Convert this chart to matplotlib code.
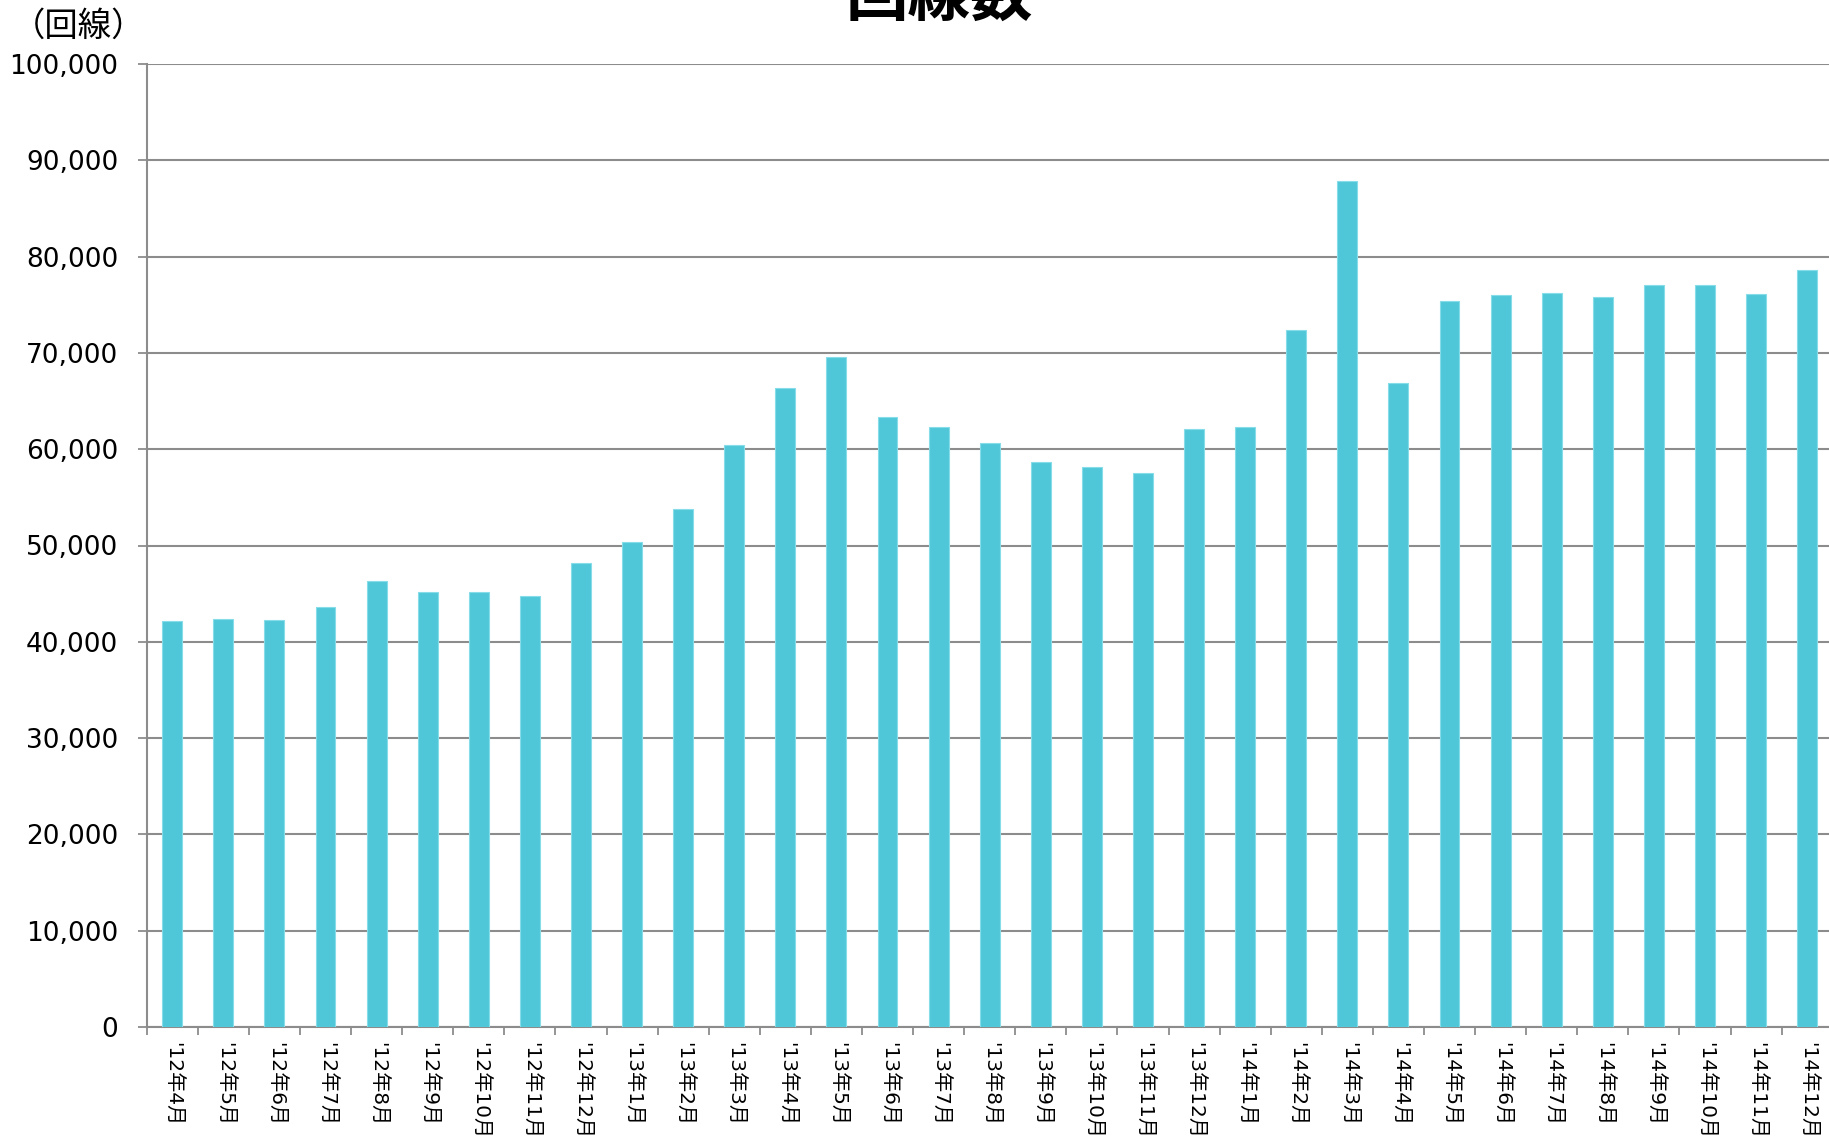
import matplotlib
matplotlib.use("Agg")
import matplotlib.pyplot as plt
from matplotlib.ticker import FuncFormatter, FixedLocator

plt.rcParams['font.family'] = ['DejaVu Sans', 'Noto Sans CJK JP']

categories = ["'12年4月", "'12年5月", "'12年6月", "'12年7月", "'12年8月", "'12年9月",
              "'12年10月", "'12年11月", "'12年12月", "'13年1月", "'13年2月", "'13年3月",
              "'13年4月", "'13年5月", "'13年6月", "'13年7月", "'13年8月", "'13年9月",
              "'13年10月", "'13年11月", "'13年12月", "'14年1月", "'14年2月", "'14年3月",
              "'14年4月", "'14年5月", "'14年6月", "'14年7月", "'14年8月", "'14年9月",
              "'14年10月", "'14年11月", "'14年12月"]
values = [42200, 42400, 42300, 43600, 46300, 45200, 45200, 44800, 48200, 50400, 53800, 60400,
          66400, 69600, 63300, 62300, 60600, 58700, 58100, 57500, 62100, 62300, 72400, 87900,
          66900, 75400, 76000, 76200, 75800, 77000, 77000, 76100, 78600]
yticks = list(range(0, 100001, 10000))

W, H = 1829, 1140
fig = plt.figure(figsize=(W / 100, H / 100), dpi=100)
ax = fig.add_axes([146.7 / W, 113 / H, 1686 / W, 963 / H])

x = list(range(len(categories)))
ax.bar(x, values, width=0.39, color='#4FC7D8', edgecolor='#86DCE8', linewidth=0.8, zorder=3)

ax.set_xlim(-0.5, len(categories) - 0.5)
ax.set_ylim(0, 100000)
ax.set_yticks(yticks)
ax.yaxis.set_major_formatter(FuncFormatter(lambda v, p: f"{int(v):,}"))
ax.grid(axis='y', color='#8C8C8C', linewidth=1.5, zorder=1)

ax.set_xticks(x)
ax.set_xticklabels(categories, rotation=-90, fontsize=14.5, va='top', ha='center')
ax.xaxis.set_minor_locator(FixedLocator([i - 0.5 for i in range(len(categories) + 1)]))
ax.tick_params(axis='x', which='major', length=0, pad=11)
ax.tick_params(axis='x', which='minor', length=6, width=1.3, color='#8C8C8C')
ax.tick_params(axis='y', length=6.5, width=1.3, color='#8C8C8C', labelsize=19, pad=14)

for s in ['top', 'right']:
    ax.spines[s].set_visible(False)
ax.spines['left'].set_color('#8C8C8C')
ax.spines['left'].set_linewidth(1.5)
ax.spines['bottom'].set_color('#8C8C8C')
ax.spines['bottom'].set_linewidth(1.5)

fig.text(939 / W, 1 + 4 / H, '回線数', fontsize=45, fontweight='bold', ha='center', va='center',
         family=['Noto Sans CJK JP', 'DejaVu Sans'])
fig.text(79 / W, 1 - 26 / H, '（回線）', fontsize=24, ha='center', va='center',
         family=['Noto Sans CJK JP', 'DejaVu Sans'])

fig.savefig('out.png', dpi=100)
